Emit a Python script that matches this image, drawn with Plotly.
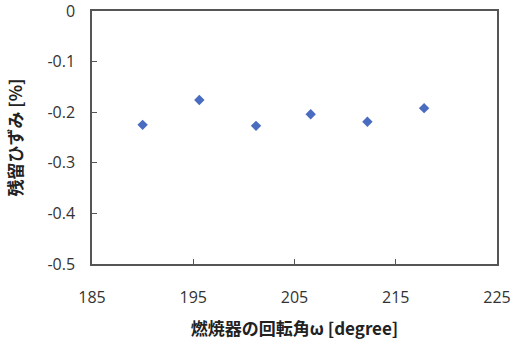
import plotly.graph_objects as go

angle_deg = [190.0, 195.6, 201.2, 206.6, 212.2, 217.8]
strain_pct = [-0.225, -0.176, -0.227, -0.204, -0.219, -0.192]

x_ticks = [185, 195, 205, 215, 225]
y_ticks = [0, -0.1, -0.2, -0.3, -0.4, -0.5]
y_tick_text = ["0", "-0.1", "-0.2", "-0.3", "-0.4", "-0.5"]

fig = go.Figure()
fig.add_trace(go.Scatter(
    x=angle_deg, y=strain_pct, mode="markers",
    marker=dict(symbol="diamond", size=8, color="#4a6cc0",
                line=dict(width=0)),
    showlegend=False, cliponaxis=False,
))

axis_color = "#555555"
tick_font = dict(family="Open Sans, Liberation Sans, sans-serif", size=16, color="#333333")
title_font = dict(family="Noto Sans CJK JP, sans-serif", size=17, color="#222222")

fig.update_layout(
    width=516, height=348,
    margin=dict(l=92, r=19, t=11, b=84),
    paper_bgcolor="white", plot_bgcolor="white",
    xaxis=dict(
        range=[185, 225], tickvals=x_ticks, ticktext=[str(v) for v in x_ticks],
        showgrid=False, zeroline=False, showline=True, linecolor=axis_color,
        linewidth=1.5, mirror=True, ticks="inside", ticklen=5, tickcolor=axis_color,
        tickfont=tick_font, ticklabelstandoff=18, automargin=False,
        ticklabeloverflow="allow",
        title=dict(text="<b>燃焼器の回転角ω [degree]</b>", font=title_font, standoff=16),
    ),
    yaxis=dict(
        range=[-0.5, 0], tickvals=y_ticks, ticktext=y_tick_text,
        showgrid=False, zeroline=False, showline=True, linecolor=axis_color,
        linewidth=1.5, mirror=True, ticks="inside", ticklen=5, tickcolor=axis_color,
        tickfont=tick_font, ticklabelstandoff=12, automargin=False,
        ticklabeloverflow="allow",
        title=dict(text="<b>残留ひずみ [%]</b>", font=title_font, standoff=20),
    ),
)

fig.write_html("out.html", config={"displayModeBar": False},
               post_script="document.body.style.margin='0';")
